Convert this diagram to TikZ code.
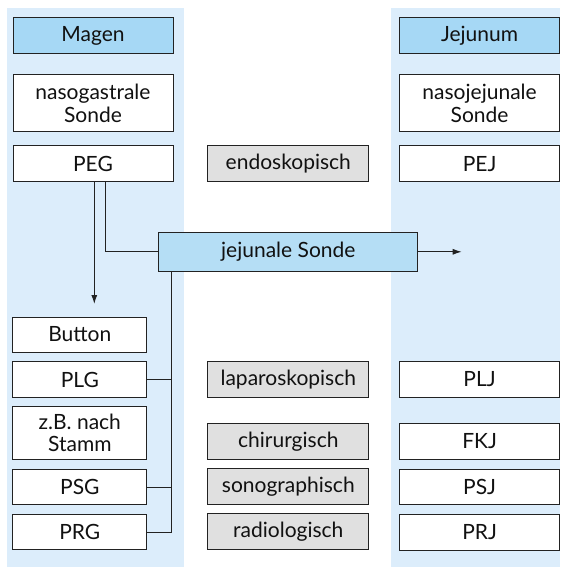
\documentclass[tikz,border=0pt]{standalone}
\usepackage{fontspec}
\setmainfont{Lato}
\usetikzlibrary{arrows.meta,calc}
\definecolor{colbg}{HTML}{DCEDFB}
\definecolor{headfill}{HTML}{A6D8F5}
\definecolor{jejfill}{HTML}{B5DEF5}
\definecolor{grayfill}{HTML}{E0E0E0}
\definecolor{lineclr}{HTML}{222222}
\definecolor{txtclr}{HTML}{111111}
\begin{document}
\begin{tikzpicture}[x=1pt,y=-1pt,
  box/.style={draw=lineclr,line width=1pt,fill=white,inner sep=0pt,align=center,
    text=txtclr,font=\fontsize{21}{22.5}\selectfont},
  headbox/.style={box,fill=headfill},
  graybox/.style={box,fill=grayfill},
  conn/.style={draw=lineclr,line width=1pt},
  arr/.style={conn,-{Latex[length=9pt,width=6pt]}}]
\useasboundingbox (0,0) rectangle (560,569);
% background columns
\fill[colbg] (7,8) rectangle (183.5,567);
\fill[colbg] (391,8) rectangle (560,567);
% left column
\node[headbox,minimum width=160pt,minimum height=36pt] (magen) at (93,36) {Magen};
\node[box,minimum width=160pt,minimum height=57pt] (nasog) at (93,103.5) {nasogastrale\\Sonde};
\node[box,minimum width=160pt,minimum height=36pt] (peg) at (93,164) {PEG};
\node[box,minimum width=133.7pt,minimum height=35pt] (button) at (79.8,334.5) {Button};
\node[box,minimum width=133.7pt,minimum height=35.7pt] (plg) at (79.8,379.8) {PLG};
\node[box,minimum width=133.7pt,minimum height=53.3pt] (zb) at (79.8,432.7) {z.B. nach\\Stamm};
\node[box,minimum width=133.7pt,minimum height=34.7pt] (psg) at (79.8,487.3) {PSG};
\node[box,minimum width=133.7pt,minimum height=35.7pt] (prg) at (79.8,532.1) {PRG};
% middle column
\node[graybox,minimum width=161pt,minimum height=36pt] (endo) at (288.3,164) {endoskopisch};
\node[headbox,fill=jejfill,minimum width=258.7pt,minimum height=39pt] (jej) at (288.3,251.8) {jejunale Sonde};
\node[graybox,minimum width=161pt,minimum height=35.7pt] (lap) at (288.3,379.8) {laparoskopisch};
\node[graybox,minimum width=161pt,minimum height=35.6pt] (chir) at (288.3,441.5) {chirurgisch};
\node[graybox,minimum width=161pt,minimum height=36pt] (sono) at (288.3,486.3) {sonographisch};
\node[graybox,minimum width=161pt,minimum height=36pt] (radio) at (288.3,531.3) {radiologisch};
% right column
\node[headbox,minimum width=159.3pt,minimum height=36pt] (jejunum) at (479.6,36) {Jejunum};
\node[box,minimum width=159.3pt,minimum height=57pt] (nasoj) at (479.6,103.5) {nasojejunale\\Sonde};
\node[box,minimum width=159.3pt,minimum height=36pt] (pej) at (479.6,164) {PEJ};
\node[box,minimum width=159.3pt,minimum height=35.6pt] (plj) at (479.6,379.5) {PLJ};
\node[box,minimum width=159.3pt,minimum height=35.7pt] (fkj) at (479.6,441.2) {FKJ};
\node[box,minimum width=159.3pt,minimum height=35pt] (psj) at (479.6,486.5) {PSJ};
\node[box,minimum width=159.3pt,minimum height=35.7pt] (prj) at (479.6,532.2) {PRJ};
% connectors
\coordinate (tipA) at (94.3,304);
\coordinate (xB) at (105.7,0);
\coordinate (tipC) at (461.7,251.8);
\coordinate (xV) at (171,0);
\draw[arr] (peg.south -| tipA) -- (tipA);
\draw[conn] (peg.south -| xB) |- (jej.west);
\draw[arr] (jej.east) -- (tipC);
\draw[conn] (jej.south -| xV) |- (prg.east);
\draw[conn] (plg.east) -- (plg.east -| xV);
\draw[conn] (psg.east) -- (psg.east -| xV);
\end{tikzpicture}
\end{document}
